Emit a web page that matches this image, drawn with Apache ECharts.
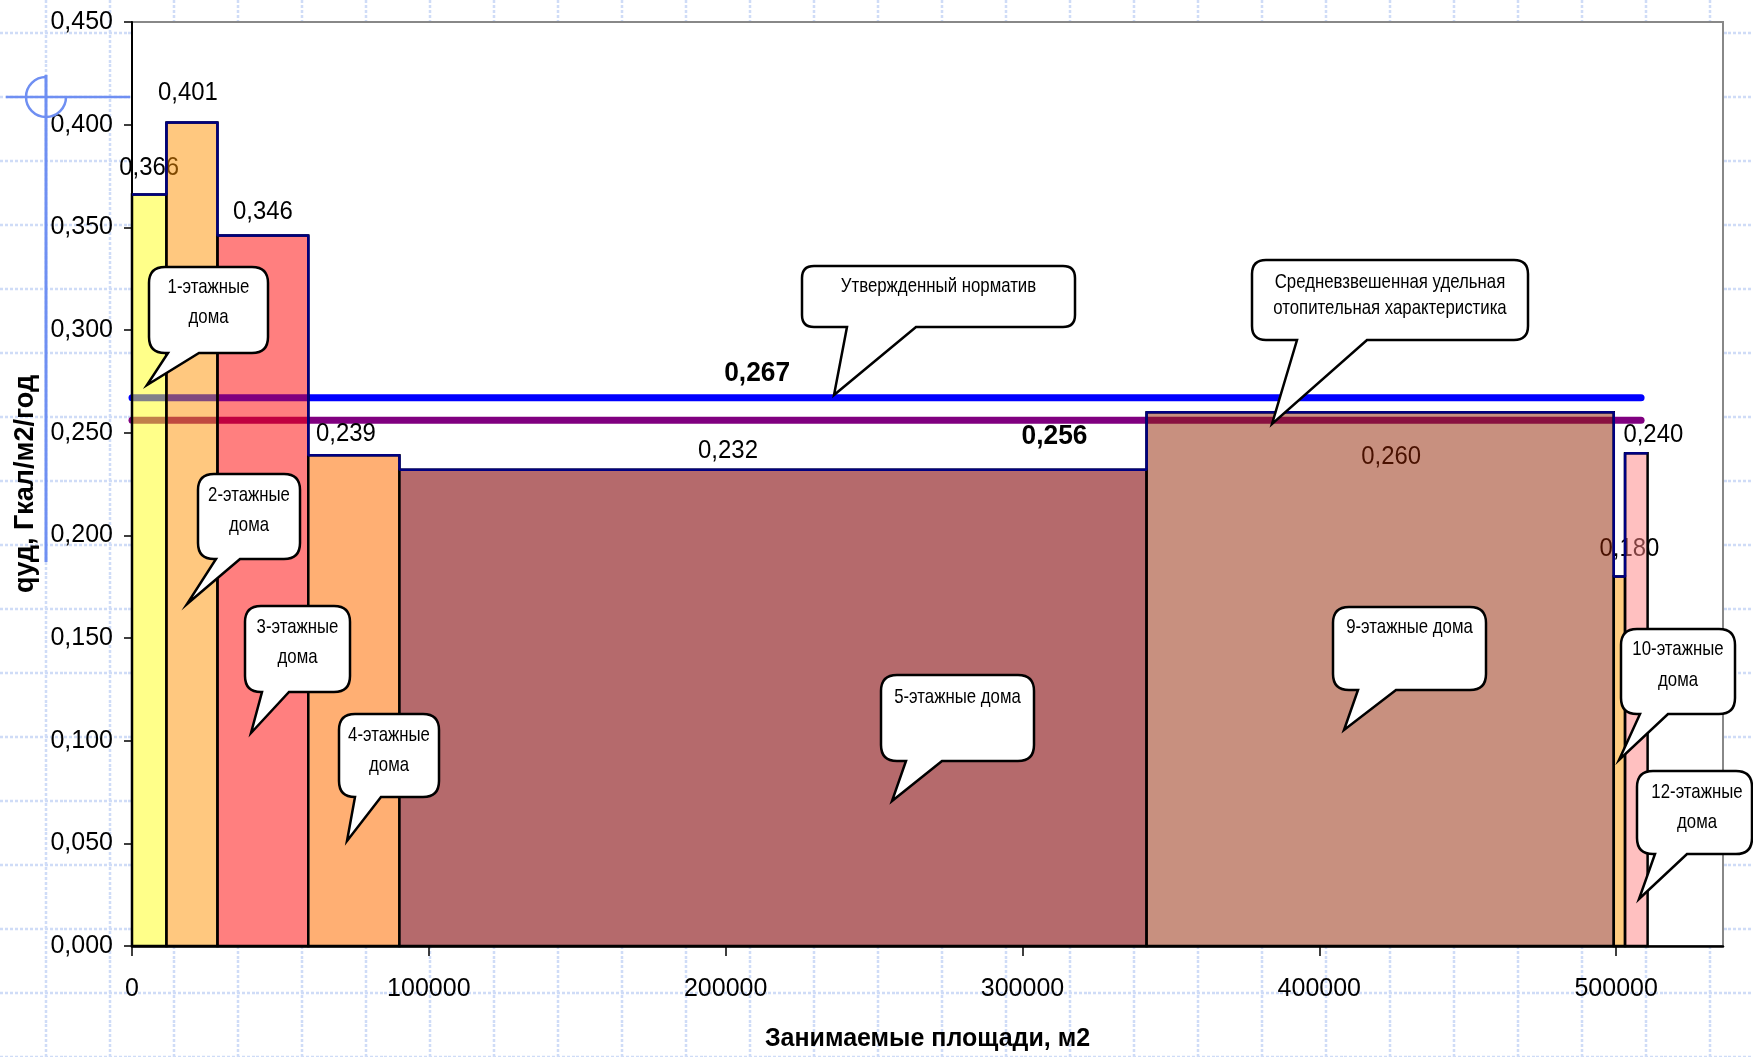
<!DOCTYPE html>
<html><head><meta charset="utf-8">
<script src="https://cdn.jsdelivr.net/npm/echarts@6/dist/echarts.min.js"></script>
<style>
html,body{margin:0;padding:0;width:1753px;height:1057px;overflow:hidden;background:#fff;}
#bg{position:absolute;left:0;top:0;width:1753px;height:1057px;
background-image:url("data:image/svg+xml;utf8,<svg xmlns='http://www.w3.org/2000/svg' width='64' height='64'><g stroke='%23cfdcf7' stroke-width='2.5' stroke-dasharray='3 2' fill='none'><line x1='46' y1='0' x2='46' y2='64'/><line x1='0' y1='33' x2='64' y2='33'/></g></svg>");}
#chart{position:absolute;left:0;top:0;width:1753px;height:1057px;}
</style></head>
<body><div id="bg"></div><div id="chart"></div>
<script>
// ---------------- data ----------------
const groups = ['1-этажные дома','2-этажные дома','3-этажные дома','4-этажные дома','5-этажные дома','9-этажные дома','10-этажные дома','12-этажные дома'];
const areas = [11600, 17200, 30600, 30700, 251700, 157400, 3800, 7600];   // м2
const qValues = [0.366, 0.401, 0.346, 0.239, 0.232, 0.260, 0.180, 0.240]; // Гкал/м2/год
const normValue = 0.267;   // Утвержденный норматив
const avgValue = 0.256;    // Средневзвешенная удельная отопительная характеристика
const refLineX = [0, 508400];
const xTicks = [0, 100000, 200000, 300000, 400000, 500000];
const xMax = 536000;
const yMin = 0, yMax = 0.45, yStep = 0.05;

// ---------------- derived ----------------
const starts = [];
let acc = 0;
areas.forEach(w => { starts.push(acc); acc += w; });
const barData = areas.map((w, i) => [starts[i], starts[i] + w, qValues[i]]);
const stepData = qValues.map((v, i) => [starts[i], v]).concat([[acc, qValues[qValues.length - 1]]]);
const fmt = v => v.toFixed(3).replace('.', ',');

// ---------------- styles / layout ----------------
const FONT = 'Liberation Sans';
const barFills = ['rgba(255,255,20,0.5)','rgba(255,145,0,0.5)','rgba(255,0,0,0.5)','#FFAF73',
                  '#B56A6C','rgba(145,33,0,0.5)','#FFCC80','rgba(255,130,130,0.5)'];
const labelOffsets = [[0,-27],[-4,-30],[0,-24],[-8,-21],[-45,-19],[11,45],[10,-28],[17,-18]];
const refLabelX = [210600, 310800];
const refLabelDy = [-24, 16];

const callouts = [
  {box:[149,267,268,353], base:[168,199], tip:[147,385], cx:208.5, lines:['1-этажные','дома'], ys:[287,317]},
  {box:[198,474,300,559], base:[216,240], tip:[187,604], cx:249, lines:['2-этажные','дома'], ys:[495,525]},
  {box:[245,606,350,692], base:[262,289], tip:[251,733], cx:297.5, lines:['3-этажные','дома'], ys:[627,657]},
  {box:[339,714,439,797], base:[355,381], tip:[347,841], cx:389, lines:['4-этажные','дома'], ys:[735,765]},
  {box:[881,675,1034,761], base:[906,942], tip:[892,801], cx:957.5, lines:['5-этажные дома'], ys:[697]},
  {box:[802,266,1075,327], base:[847,916], tip:[834,395], cx:938.5, lines:['Утвержденный норматив'], ys:[286], r:12},
  {box:[1252,260,1528,340], base:[1297,1367], tip:[1272,424], cx:1390, lines:['Средневзвешенная удельная','отопительная характеристика'], ys:[282,308], r:14},
  {box:[1333,607,1486,690], base:[1358,1396], tip:[1344,730], cx:1409.5, lines:['9-этажные дома'], ys:[627]},
  {box:[1621,629,1735,714], base:[1640,1668], tip:[1619,760], cx:1678, lines:['10-этажные','дома'], ys:[649,680]},
  {box:[1637,771,1752,854], base:[1655,1687], tip:[1639,899], cx:1697, lines:['12-этажные','дома'], ys:[792,822]}
];

function calloutPath(c){
  const [x0,y0,x1,y1] = c.box, r = c.r || 16, [b0,b1] = c.base, [tx,ty] = c.tip;
  return `M${x0+r},${y0} L${x1-r},${y0} Q${x1},${y0} ${x1},${y0+r} L${x1},${y1-r} Q${x1},${y1} ${x1-r},${y1} ` +
         `L${b1},${y1} L${tx},${ty} L${b0},${y1} L${x0+r},${y1} Q${x0},${y1} ${x0},${y1-r} L${x0},${y0+r} Q${x0},${y0} ${x0+r},${y0} Z`;
}

function annotations(){
  const ch = [];
  ch.push({type:'line', shape:{x1:46,y1:75,x2:46,y2:562}, style:{stroke:'#6f8ff2', lineWidth:3}});
  ch.push({type:'line', shape:{x1:6,y1:97,x2:130,y2:97}, style:{stroke:'#6f8ff2', lineWidth:2.5}});
  ch.push({type:'path', shape:{pathData:'M66,97 A20,20 0 1 1 46,77'}, style:{stroke:'#6f8ff2', lineWidth:2.5, fill:'none'}});
  callouts.forEach(c => {
    ch.push({type:'path', shape:{pathData: calloutPath(c)}, style:{fill:'#fff', stroke:'#000', lineWidth:2.5}});
    c.lines.forEach((t, k) => {
      ch.push({type:'text', x:c.cx, y:c.ys[k], scaleX:0.8,
        style:{text:t, fontSize:21, fontFamily:FONT, fill:'#000', align:'center', verticalAlign:'middle'}});
    });
  });
  return {type:'group', children:ch};
}

const chart = echarts.init(document.getElementById('chart'));
chart.setOption({
  animation:false,
  textStyle:{fontFamily:FONT},
  grid:{left:132, top:22, right:30, bottom:108, show:true, backgroundColor:'#fff', borderColor:'#888', borderWidth:2},
  xAxis:{
    type:'value', min:0, max:xMax, interval:100000,
    name:'Занимаемые площади, м2', nameLocation:'middle', nameGap:81,
    nameTextStyle:{fontSize:25, fontWeight:'bold', color:'#000', fontFamily:FONT},
    axisLine:{show:true, onZero:false, lineStyle:{color:'#000', width:2.5}},
    axisTick:{show:true, length:10, lineStyle:{color:'#000', width:1.5}, customValues:xTicks},
    axisLabel:{fontSize:25, color:'#000', margin:31, customValues:xTicks,
      formatter: v => (v % 100000 === 0 ? String(v) : '')},
    splitLine:{show:false}
  },
  yAxis:{
    type:'value', min:yMin, max:yMax, interval:yStep,
    name:'qуд, Гкал/м2/год', nameLocation:'middle', nameGap:89, nameRotate:90,
    nameTextStyle:{fontSize:27, fontWeight:'bold', color:'#000', fontFamily:FONT},
    axisLine:{show:true, lineStyle:{color:'#000', width:2}},
    axisTick:{show:true, length:8, lineStyle:{color:'#000', width:1.5}},
    axisLabel:{fontSize:25, color:'#000', margin:19, formatter: fmt},
    splitLine:{show:false}
  },
  series:[
    {type:'line', z:1, name:'Утвержденный норматив', data:refLineX.map(x => [x, normValue]), symbol:'none',
     lineStyle:{color:'#0000ff', width:7, cap:'round'}, silent:true},
    {type:'line', z:1, name:'Средневзвешенная', data:refLineX.map(x => [x, avgValue]), symbol:'none',
     lineStyle:{color:'#800080', width:7, cap:'round'}, silent:true},
    {type:'custom', z:2, name:'labels', data:barData,
     encode:{x:[0,1], y:2},
     renderItem:(params, api) => {
       const i = params.dataIndex;
       const p = api.coord([(api.value(0) + api.value(1)) / 2, api.value(2)]);
       const o = labelOffsets[i];
       return {type:'text', x:p[0] + o[0], y:p[1] + o[1], scaleX:0.92,
         style:{text: fmt(api.value(2)), fontSize:26, fontFamily:FONT, fill:'#000', align:'center', verticalAlign:'middle'}};
     }},
    {type:'custom', z:2, name:'refLabels', data:[[refLabelX[0], normValue],[refLabelX[1], avgValue]],
     encode:{x:0, y:1},
     renderItem:(params, api) => {
       const p = api.coord([api.value(0), api.value(1)]);
       return {type:'text', x:p[0], y:p[1] + refLabelDy[params.dataIndex], scaleX:0.94,
         style:{text: fmt(api.value(1)), fontSize:28, fontWeight:'bold', fontFamily:FONT, fill:'#000', align:'center', verticalAlign:'middle'}};
     }},
    {type:'custom', z:3, name:'bars', data:barData,
     encode:{x:[0,1], y:2},
     renderItem:(params, api) => {
       const p0 = api.coord([api.value(0), api.value(2)]);
       const p1 = api.coord([api.value(1), 0]);
       return {type:'rect', shape:{x:p0[0], y:p0[1], width:p1[0]-p0[0], height:p1[1]-p0[1]},
         style:{fill: barFills[params.dataIndex], stroke:'#000', lineWidth:2.5}};
     }},
    {type:'line', z:4, name:'step', data:stepData, step:'end', symbol:'none',
     lineStyle:{color:'#000080', width:2.5}, silent:true},
    {type:'custom', z:10, name:'annotations', coordinateSystem:'none', data:[[0]], silent:true,
     renderItem:() => annotations()}
  ]
});
</script>
</body></html>
